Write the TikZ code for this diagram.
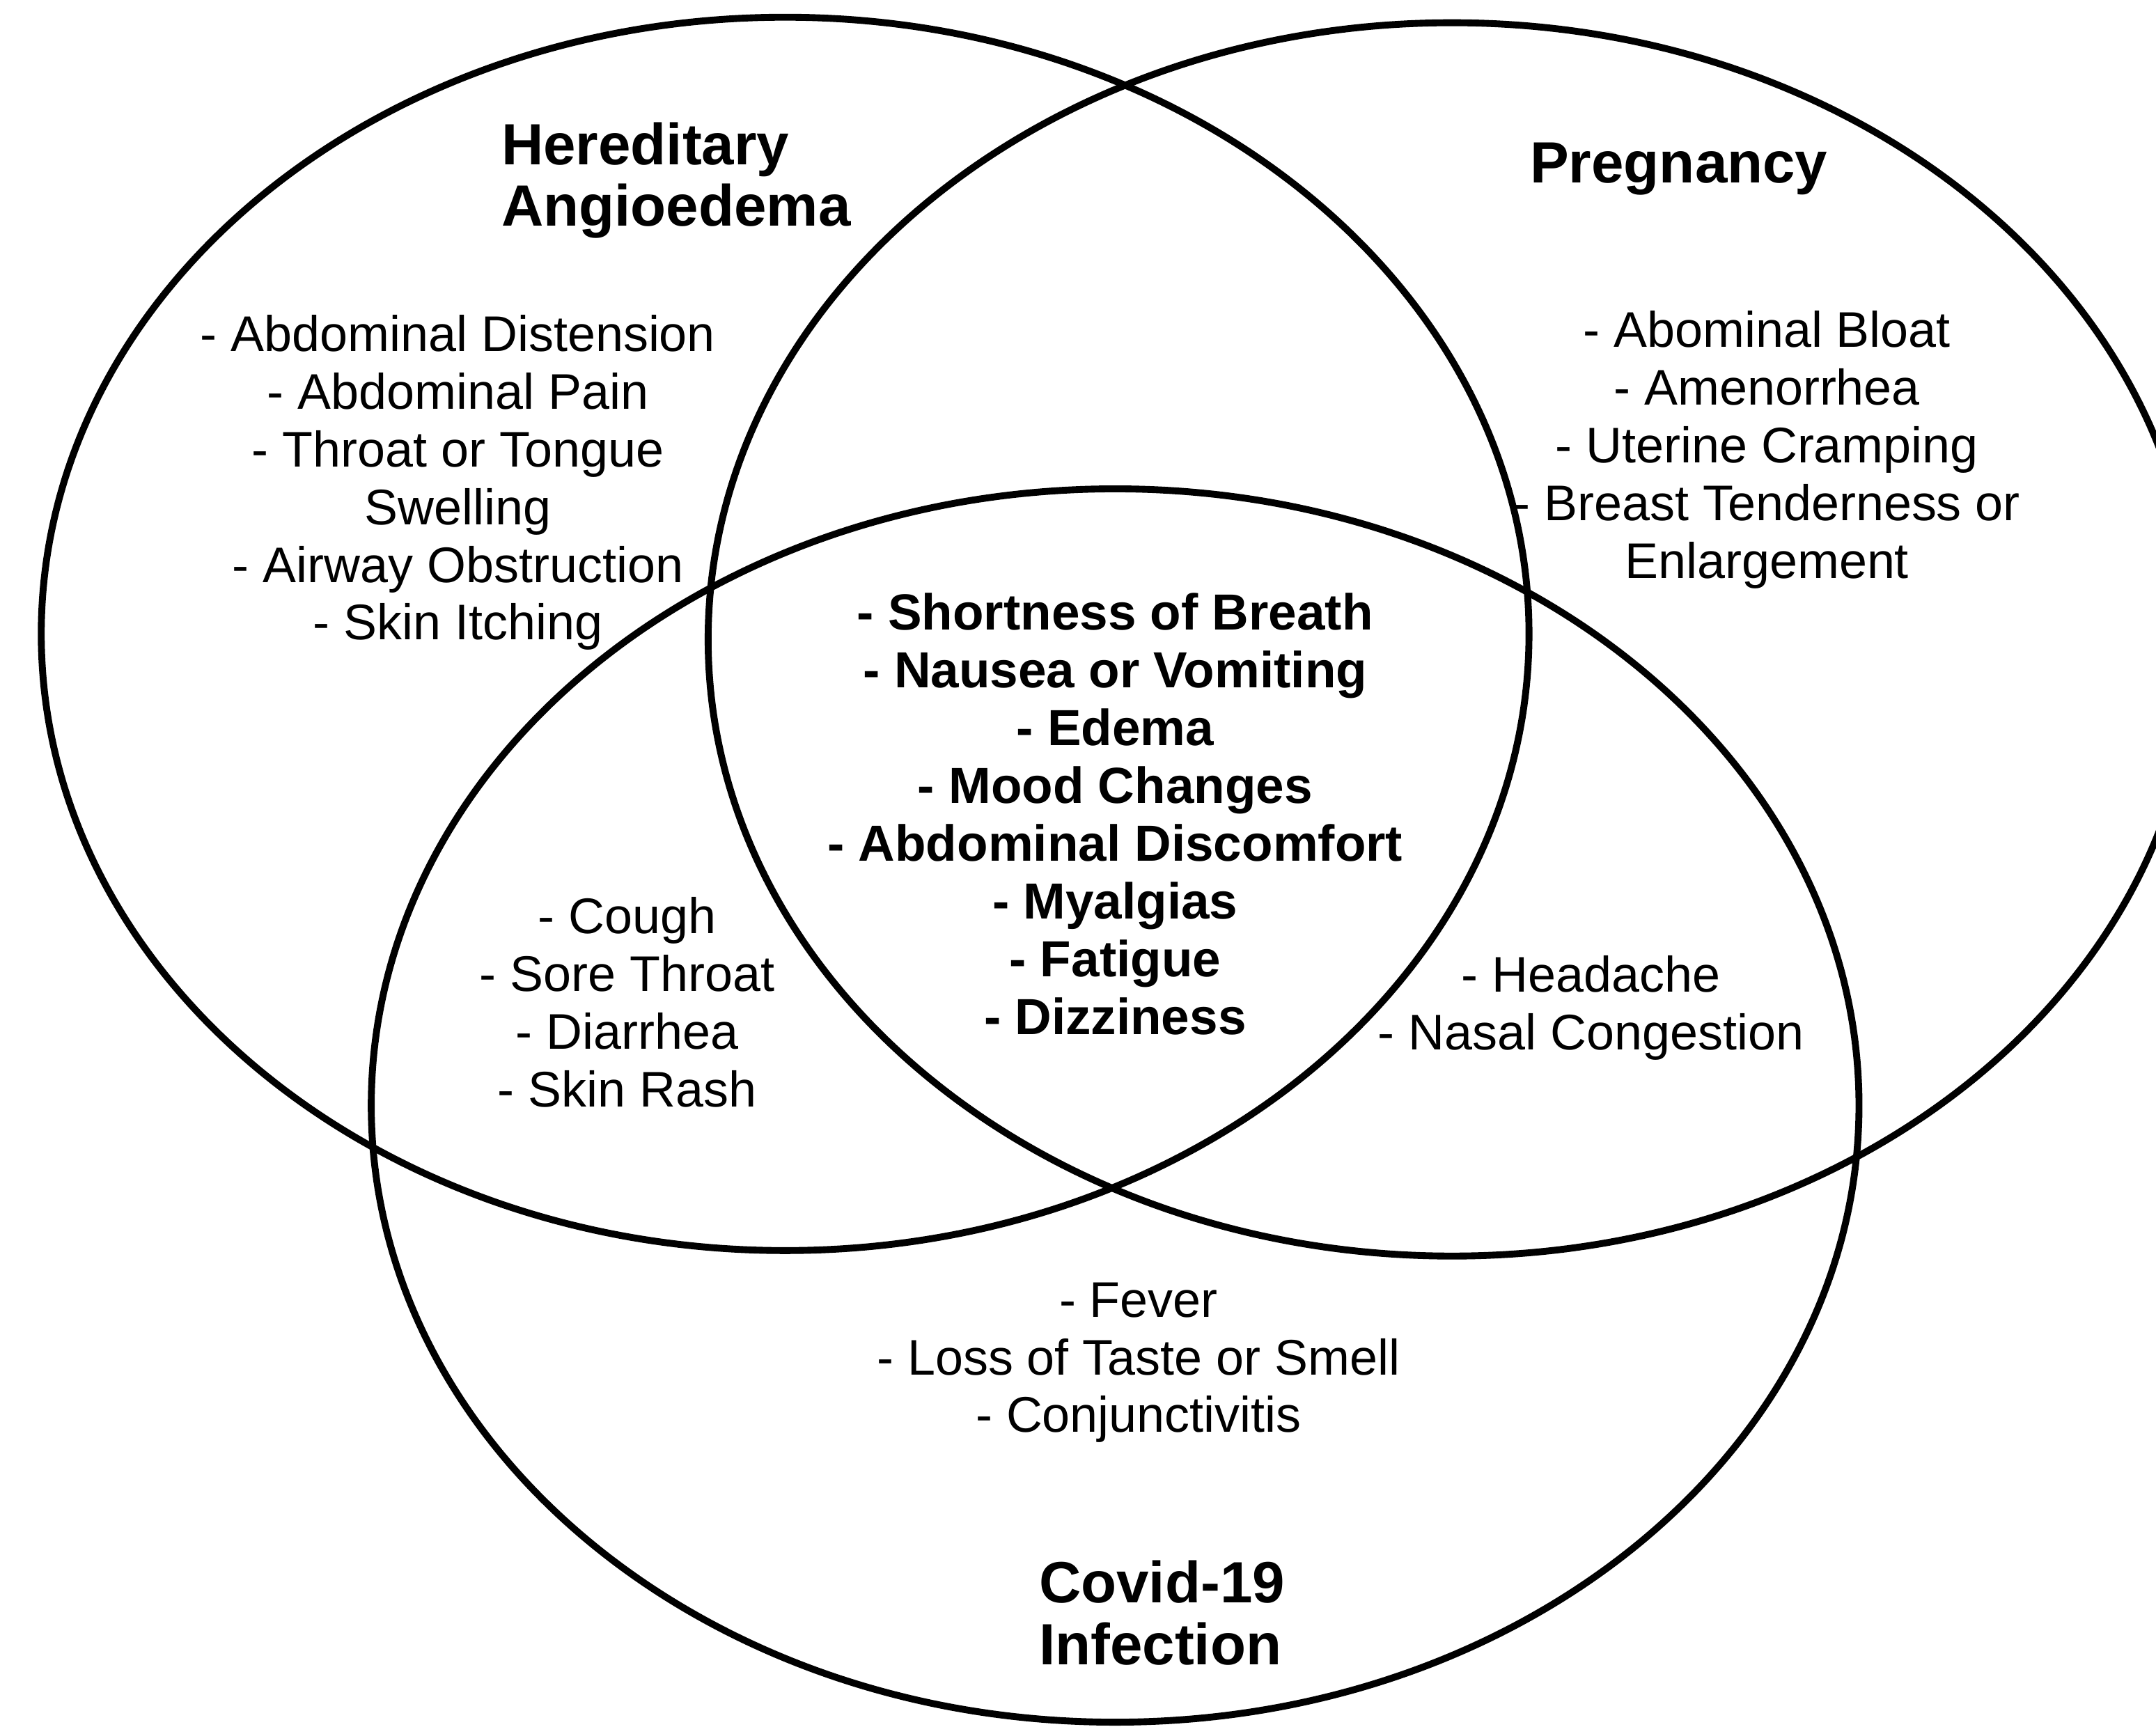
\documentclass[tikz,border=0pt]{standalone}
\usepackage{fontspec}
\setmainfont{Liberation Sans}
\usepackage{tikz}

\tikzset{
    venn/.style={line width=0.5mm},
    items/.style={align=center, inner sep=0pt, font=\fontsize{10.36pt}{11.95pt}\selectfont},
    core/.style={align=center, inner sep=0pt, font=\bfseries\fontsize{10.5pt}{11.95pt}\selectfont},
    setname/.style={align=left, inner sep=0pt, anchor=west, font=\bfseries\fontsize{12.04pt}{12.7pt}\selectfont},
}

\begin{document}
\begin{tikzpicture}[x=0.1mm, y=-0.1mm]
    \useasboundingbox (0,0) rectangle (1568,1256);
    \coordinate (hae) at (571,461);
    \coordinate (preg) at (1056,465);
    \coordinate (covid) at (811,804);
    \foreach \c in {hae,preg,covid}
        \draw[venn] (\c) ellipse [x radius=54.1mm, y radius=44.85mm];
    % set names
    \node[setname] (haeName) at (364,131) {Hereditary\\Angioedema};
    \node[setname, anchor=center] (pregName) at (1221,123) {Pregnancy};
    \node[setname] (covidName) at (755,1173) {Covid-19\\Infection};
    % symptoms
    \node[items] (haeOnly) at (333,351) {- Abdominal Distension\\- Abdominal Pain\\- Throat or Tongue\\Swelling\\- Airway Obstruction\\- Skin Itching};
    \node[items] (pregOnly) at (1285,327) {- Abominal Bloat\\- Amenorrhea\\- Uterine Cramping\\- Breast Tenderness or\\Enlargement};
    \node[core] (allThree) at (811,592) {- Shortness of Breath\\- Nausea or Vomiting\\- Edema\\- Mood Changes\\- Abdominal Discomfort\\- Myalgias\\- Fatigue\\- Dizziness};
    \node[items] (haeCovid) at (456,729) {- Cough\\- Sore Throat\\- Diarrhea\\- Skin Rash};
    \node[items] (pregCovid) at (1157,733) {- Headache\\- Nasal Congestion};
    \node[items] (covidOnly) at (828,991) {- Fever\\- Loss of Taste or Smell\\- Conjunctivitis};
\end{tikzpicture}
\end{document}
